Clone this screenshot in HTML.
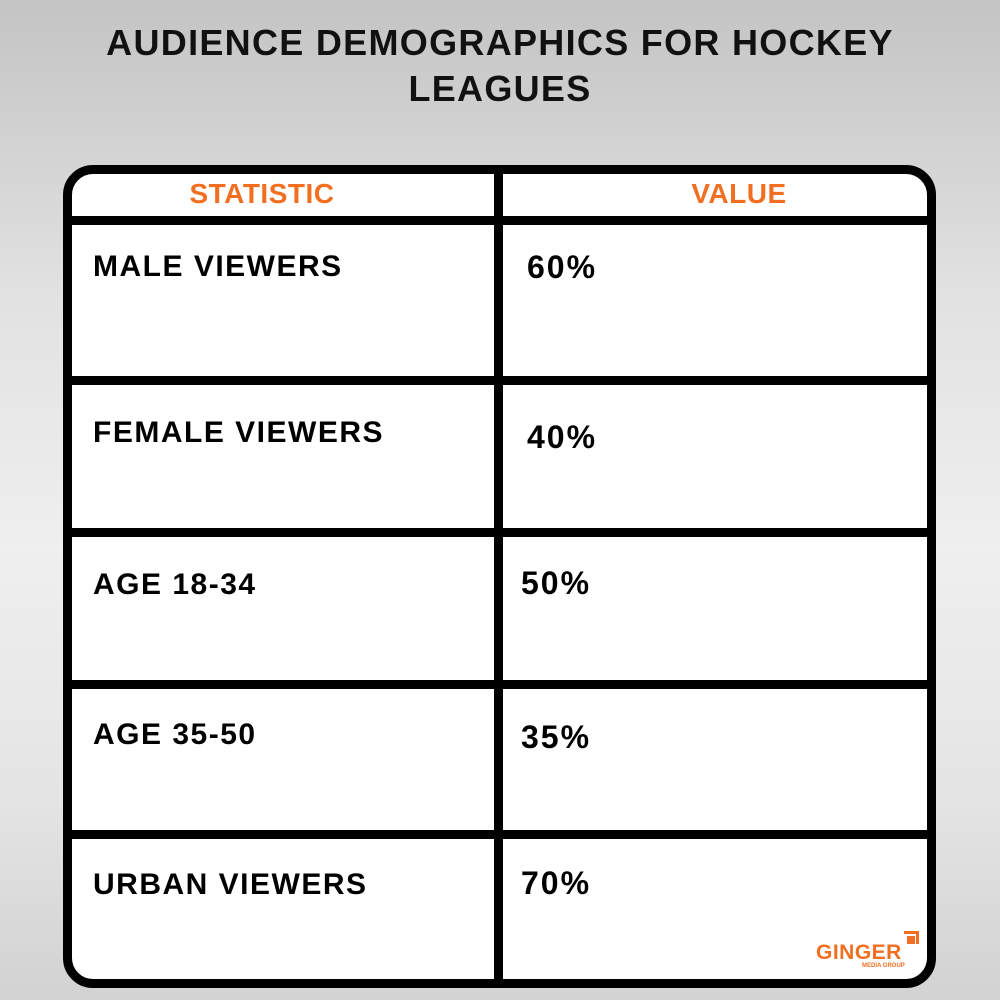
<!DOCTYPE html>
<html><head><style>
*{margin:0;padding:0;box-sizing:border-box}
body{width:1000px;height:1000px;position:relative;overflow:hidden;font-family:"Liberation Sans",sans-serif;font-weight:bold;
background:linear-gradient(180deg,#c4c4c4 0%,#e2e2e2 30%,#efefef 55%,#e4e4e4 80%,#d2d2d2 100%)}
.t{position:absolute;left:0;width:1000px;text-align:center;font-size:36px;color:#111;letter-spacing:1.3px}
.box{position:absolute;left:63px;top:165px;width:873px;height:823px;border:9px solid #000;border-radius:30px;background:#fff}
.h{position:absolute;left:63px;width:873px;height:9px;background:#000}
.v{position:absolute;left:494px;top:165px;width:9px;height:823px;background:#000}
.hd{position:absolute;top:178px;font-size:28px;color:#f26f21;text-align:center;letter-spacing:0.5px}
.l{position:absolute;left:93px;font-size:30px;color:#000;letter-spacing:1.5px}
.r{position:absolute;font-size:32px;color:#000;letter-spacing:2px}
</style></head><body>
<div class="t" style="top:22px">AUDIENCE DEMOGRAPHICS FOR HOCKEY</div>
<div class="t" style="top:68px">LEAGUES</div>
<div class="box"></div>
<div class="h" style="top:216px"></div>
<div class="h" style="top:376px"></div>
<div class="h" style="top:528px"></div>
<div class="h" style="top:680px"></div>
<div class="h" style="top:830px"></div>
<div class="v"></div>
<div class="hd" style="left:62px;width:400px">STATISTIC</div>
<div class="hd" style="left:539px;width:400px">VALUE</div>
<div class="l" style="top:250px">MALE VIEWERS</div>
<div class="r" style="left:527px;top:249px">60%</div>
<div class="l" style="top:416px">FEMALE VIEWERS</div>
<div class="r" style="left:527px;top:419px">40%</div>
<div class="l" style="top:568px">AGE 18-34</div>
<div class="r" style="left:521px;top:565px">50%</div>
<div class="l" style="top:718px">AGE 35-50</div>
<div class="r" style="left:521px;top:719px">35%</div>
<div class="l" style="top:868px">URBAN VIEWERS</div>
<div class="r" style="left:521px;top:865px">70%</div>
<div style="position:absolute;left:816px;top:941px;font-size:21px;color:#f26f21;letter-spacing:0.5px">GINGER</div>
<div style="position:absolute;left:862px;top:963px;font-size:6px;color:#f26f21">MEDIA GROUP</div>
<div style="position:absolute;left:904px;top:931px;width:15px;height:13px;border-top:3px solid #f26f21;border-right:3px solid #f26f21"></div>
<div style="position:absolute;left:907px;top:936px;width:8px;height:8px;background:#f26f21"></div>
</body></html>
